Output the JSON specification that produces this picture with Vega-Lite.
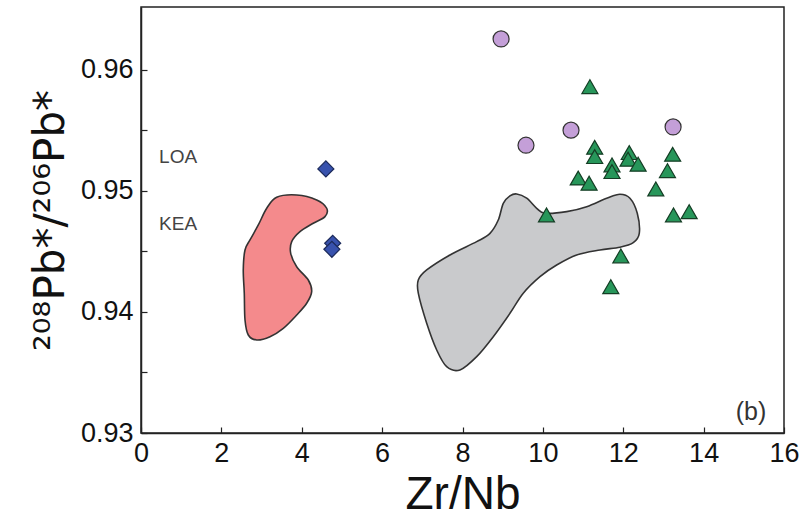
{
  "$schema": "https://vega.github.io/schema/vega-lite/v6.json",
  "width": 643,
  "height": 426,
  "autosize": {"type": "none"},
  "padding": {"left": 141, "top": 7, "right": 25, "bottom": 86},
  "background": "white",
  "config": {
    "view": {"stroke": "#222", "strokeWidth": 1.5},
    "axis": {
      "grid": false,
      "domainColor": "#222",
      "domainWidth": 1.5,
      "tickColor": "#222",
      "tickWidth": 1.2,
      "labelFont": "Liberation Sans",
      "labelFontSize": 27,
      "labelColor": "#111",
      "titleFont": "Liberation Sans",
      "titleFontWeight": "normal",
      "titleColor": "#111"
    }
  },
  "datasets": {
    "polys": [
      {"poly": "pink", "idx": 1, "x": 3.376, "y": 0.94948},
      {"poly": "pink", "idx": 2, "x": 3.874, "y": 0.94967},
      {"poly": "pink", "idx": 3, "x": 4.372, "y": 0.94926},
      {"poly": "pink", "idx": 4, "x": 4.621, "y": 0.94857},
      {"poly": "pink", "idx": 5, "x": 4.578, "y": 0.94788},
      {"poly": "pink", "idx": 6, "x": 4.287, "y": 0.94733},
      {"poly": "pink", "idx": 7, "x": 3.956, "y": 0.94664},
      {"poly": "pink", "idx": 8, "x": 3.75, "y": 0.94581},
      {"poly": "pink", "idx": 9, "x": 3.725, "y": 0.94485},
      {"poly": "pink", "idx": 10, "x": 3.874, "y": 0.94374},
      {"poly": "pink", "idx": 11, "x": 4.163, "y": 0.94264},
      {"poly": "pink", "idx": 12, "x": 4.247, "y": 0.94168},
      {"poly": "pink", "idx": 13, "x": 4.123, "y": 0.94072},
      {"poly": "pink", "idx": 14, "x": 3.874, "y": 0.93975},
      {"poly": "pink", "idx": 15, "x": 3.541, "y": 0.93865},
      {"poly": "pink", "idx": 16, "x": 3.21, "y": 0.93796},
      {"poly": "pink", "idx": 17, "x": 2.879, "y": 0.93769},
      {"poly": "pink", "idx": 18, "x": 2.67, "y": 0.9381},
      {"poly": "pink", "idx": 19, "x": 2.588, "y": 0.93934},
      {"poly": "pink", "idx": 20, "x": 2.57, "y": 0.94155},
      {"poly": "pink", "idx": 21, "x": 2.545, "y": 0.94347},
      {"poly": "pink", "idx": 22, "x": 2.588, "y": 0.94512},
      {"poly": "pink", "idx": 23, "x": 2.712, "y": 0.94595},
      {"poly": "pink", "idx": 24, "x": 2.919, "y": 0.94719},
      {"poly": "pink", "idx": 25, "x": 3.128, "y": 0.94857},
      {"poly": "gray", "idx": 1, "x": 9.348, "y": 0.94975},
      {"poly": "gray", "idx": 2, "x": 9.597, "y": 0.9494},
      {"poly": "gray", "idx": 3, "x": 9.846, "y": 0.94857},
      {"poly": "gray", "idx": 4, "x": 10.052, "y": 0.94816},
      {"poly": "gray", "idx": 5, "x": 10.592, "y": 0.94829},
      {"poly": "gray", "idx": 6, "x": 11.09, "y": 0.9487},
      {"poly": "gray", "idx": 7, "x": 11.588, "y": 0.9494},
      {"poly": "gray", "idx": 8, "x": 11.918, "y": 0.94973},
      {"poly": "gray", "idx": 9, "x": 12.167, "y": 0.9494},
      {"poly": "gray", "idx": 10, "x": 12.349, "y": 0.94816},
      {"poly": "gray", "idx": 11, "x": 12.399, "y": 0.9465},
      {"poly": "gray", "idx": 12, "x": 12.249, "y": 0.94573},
      {"poly": "gray", "idx": 13, "x": 11.918, "y": 0.94535},
      {"poly": "gray", "idx": 14, "x": 11.421, "y": 0.94512},
      {"poly": "gray", "idx": 15, "x": 10.841, "y": 0.94471},
      {"poly": "gray", "idx": 16, "x": 10.343, "y": 0.94388},
      {"poly": "gray", "idx": 17, "x": 9.928, "y": 0.94292},
      {"poly": "gray", "idx": 18, "x": 9.512, "y": 0.94155},
      {"poly": "gray", "idx": 19, "x": 9.181, "y": 0.93989},
      {"poly": "gray", "idx": 20, "x": 8.766, "y": 0.93796},
      {"poly": "gray", "idx": 21, "x": 8.353, "y": 0.93631},
      {"poly": "gray", "idx": 22, "x": 7.937, "y": 0.93521},
      {"poly": "gray", "idx": 23, "x": 7.606, "y": 0.93548},
      {"poly": "gray", "idx": 24, "x": 7.358, "y": 0.93686},
      {"poly": "gray", "idx": 25, "x": 7.109, "y": 0.93907},
      {"poly": "gray", "idx": 26, "x": 6.9, "y": 0.94155},
      {"poly": "gray", "idx": 27, "x": 6.9, "y": 0.94264},
      {"poly": "gray", "idx": 28, "x": 7.109, "y": 0.94347},
      {"poly": "gray", "idx": 29, "x": 7.688, "y": 0.94471},
      {"poly": "gray", "idx": 30, "x": 8.353, "y": 0.94581},
      {"poly": "gray", "idx": 31, "x": 8.684, "y": 0.9465},
      {"poly": "gray", "idx": 32, "x": 8.89, "y": 0.9476},
      {"poly": "gray", "idx": 33, "x": 9.015, "y": 0.94898},
      {"poly": "gray", "idx": 34, "x": 9.181, "y": 0.94959}
    ],
    "points": [
      {"group": "circle", "x": 8.96, "y": 0.96256},
      {"group": "circle", "x": 9.58, "y": 0.95378},
      {"group": "circle", "x": 10.7, "y": 0.95502},
      {"group": "circle", "x": 13.24, "y": 0.95529},
      {"group": "diamond", "x": 4.6, "y": 0.95182},
      {"group": "diamond", "x": 4.77, "y": 0.94568},
      {"group": "diamond", "x": 4.75, "y": 0.94518},
      {"group": "triangle", "x": 11.17, "y": 0.95862},
      {"group": "triangle", "x": 11.29, "y": 0.95361},
      {"group": "triangle", "x": 11.29, "y": 0.95284},
      {"group": "triangle", "x": 11.72, "y": 0.95215},
      {"group": "triangle", "x": 11.72, "y": 0.9516},
      {"group": "triangle", "x": 12.15, "y": 0.95317},
      {"group": "triangle", "x": 12.12, "y": 0.95262},
      {"group": "triangle", "x": 12.37, "y": 0.95221},
      {"group": "triangle", "x": 13.23, "y": 0.95303},
      {"group": "triangle", "x": 13.1, "y": 0.95168},
      {"group": "triangle", "x": 10.88, "y": 0.95107},
      {"group": "triangle", "x": 11.15, "y": 0.95064},
      {"group": "triangle", "x": 12.81, "y": 0.95017},
      {"group": "triangle", "x": 13.25, "y": 0.94802},
      {"group": "triangle", "x": 13.64, "y": 0.94829},
      {"group": "triangle", "x": 10.09, "y": 0.94802},
      {"group": "triangle", "x": 11.94, "y": 0.94463},
      {"group": "triangle", "x": 11.69, "y": 0.94209}
    ],
    "labels": [
      {"label": "LOA", "x": 0.45, "y": 0.9528, "kind": "zone"},
      {"label": "KEA", "x": 0.45, "y": 0.9473, "kind": "zone"},
      {"label": "(b)", "x": 15.18, "y": 0.9317, "kind": "panel"}
    ]
  },
  "layer": [
    {
      "data": {"name": "polys"},
      "transform": [{"filter": "datum.poly == 'pink'"}],
      "mark": {"type": "line", "interpolate": "cardinal-closed", "fill": "#f48a8c", "stroke": "#333", "strokeWidth": 1.6},
      "encoding": {
        "x": {
          "field": "x", "type": "quantitative",
          "scale": {"domain": [0, 16], "nice": false, "zero": false},
          "axis": {
            "values": [0, 2, 4, 6, 8, 10, 12, 14, 16],
            "tickSize": -6,
            "labelPadding": 13,
            "labelFlush": false,
            "title": "Zr/Nb",
            "titleFontSize": 46,
            "titlePadding": 6
          }
        },
        "y": {
          "field": "y", "type": "quantitative",
          "scale": {"domain": [0.93, 0.9652], "nice": false, "zero": false},
          "axis": {
            "values": [0.93, 0.935, 0.94, 0.945, 0.95, 0.955, 0.96],
            "labelExpr": "round(datum.value*1000) % 10 == 0 ? format(datum.value, '.2f') : ''",
            "tickSize": -6,
            "labelPadding": 14,
            "labelFlush": false,
            "title": "²⁰⁸Pb*/²⁰⁶Pb*",
            "titleFont": "DejaVu Sans",
            "titleFontSize": 42,
            "titlePadding": 8
          }
        },
        "order": {"field": "idx", "type": "quantitative"}
      }
    },
    {
      "data": {"name": "polys"},
      "transform": [{"filter": "datum.poly == 'gray'"}],
      "mark": {"type": "line", "interpolate": "cardinal-closed", "fill": "#c9cacc", "stroke": "#333", "strokeWidth": 1.6},
      "encoding": {
        "x": {"field": "x", "type": "quantitative"},
        "y": {"field": "y", "type": "quantitative"},
        "order": {"field": "idx", "type": "quantitative"}
      }
    },
    {
      "mark": {"type": "rule", "color": "#111", "strokeWidth": 2.2},
      "encoding": {"y": {"datum": 0.95}}
    },
    {
      "data": {"name": "points"},
      "mark": {"type": "point", "filled": true, "size": 256, "strokeWidth": 1.2, "opacity": 1},
      "encoding": {
        "x": {"field": "x", "type": "quantitative"},
        "y": {"field": "y", "type": "quantitative"},
        "shape": {"field": "group", "type": "nominal", "legend": null,
          "scale": {"domain": ["circle", "diamond", "triangle"], "range": ["circle", "diamond", "triangle-up"]}},
        "fill": {"field": "group", "type": "nominal", "legend": null,
          "scale": {"domain": ["circle", "diamond", "triangle"], "range": ["#c49fd8", "#3852ad", "#27965a"]}},
        "stroke": {"field": "group", "type": "nominal", "legend": null,
          "scale": {"domain": ["circle", "diamond", "triangle"], "range": ["#333333", "#1c2a5a", "#143d24"]}}
      }
    },
    {
      "data": {"name": "labels"},
      "transform": [{"filter": "datum.kind == 'zone'"}],
      "mark": {"type": "text", "align": "left", "baseline": "middle", "font": "Liberation Sans", "fontSize": 19, "color": "#444"},
      "encoding": {
        "x": {"field": "x", "type": "quantitative"},
        "y": {"field": "y", "type": "quantitative"},
        "text": {"field": "label"}
      }
    },
    {
      "data": {"name": "labels"},
      "transform": [{"filter": "datum.kind == 'panel'"}],
      "mark": {"type": "text", "align": "center", "baseline": "middle", "font": "Liberation Sans", "fontSize": 25, "color": "#333"},
      "encoding": {
        "x": {"field": "x", "type": "quantitative"},
        "y": {"field": "y", "type": "quantitative"},
        "text": {"field": "label"}
      }
    }
  ]
}
